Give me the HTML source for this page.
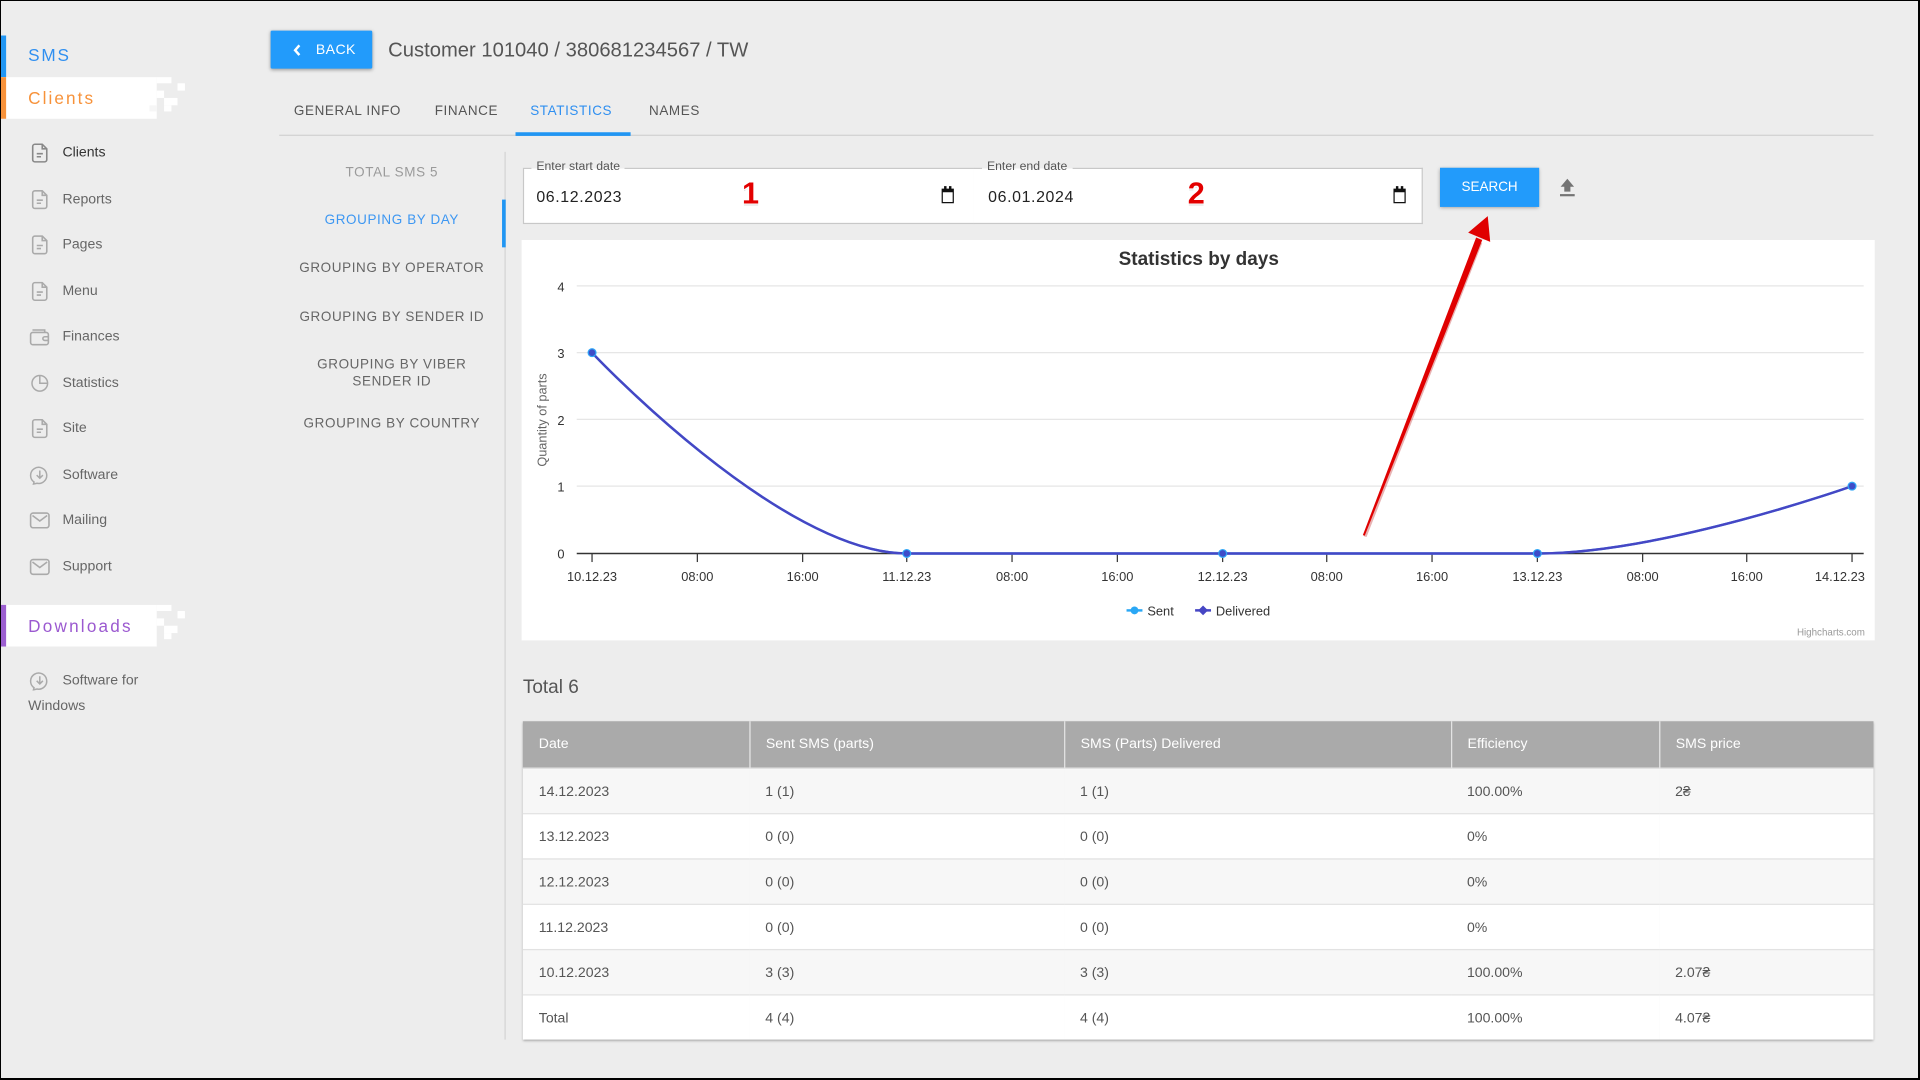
<!DOCTYPE html>
<html>
<head>
<meta charset="utf-8">
<style>
html,body{margin:0;padding:0;}
body{width:1920px;height:1080px;overflow:hidden;background:#ededed;position:relative;font-family:"Liberation Sans",Arial,sans-serif;}
#s{position:absolute;left:0;top:0;width:1568px;height:882px;transform:scale(1.22449);transform-origin:0 0;}
.a{position:absolute;white-space:nowrap;}
.side{font-size:11.5px;color:#666;left:51px;height:16px;line-height:16px;}
.ico{position:absolute;left:25px;width:15px;height:16px;}
.tab{font-size:11px;letter-spacing:0.5px;color:#555;top:83px;height:16px;line-height:16px;}
.sub{font-size:11px;letter-spacing:0.5px;color:#666;left:228px;width:184px;text-align:center;line-height:14px;}
.lbl{font-size:10px;color:#555;top:131px;height:12px;line-height:12px;padding:0 4px;background:linear-gradient(#ededed 55%,#fff 55%);}
.val{font-size:13px;letter-spacing:0.5px;color:#222;top:153px;height:16px;line-height:16px;}
.cal{position:absolute;width:8px;height:8px;border:1.6px solid #111;border-top-width:3px;top:154px;}
.cal:before,.cal:after{content:"";position:absolute;top:-5px;width:1.6px;height:3px;background:#111;}
.cal:before{left:1px}.cal:after{right:1px}
.num{font-size:25px;font-weight:bold;color:#e30000;text-shadow:1px 0 #fff,-1px 0 #fff,0 1px #fff,0 -1px #fff,1px 1px #fff,-1px 1px #fff,0 2px #ddd;height:30px;line-height:30px;}
table{position:absolute;left:427px;top:589px;width:1103px;border-collapse:collapse;table-layout:fixed;font-size:11.5px;color:#555;box-shadow:0 1px 2px rgba(0,0,0,.35);}
th{height:38px;background:#aaa;color:#fff;font-weight:normal;text-align:left;padding:1px 0 0 13px;border-left:1px solid #e4e4e4;box-sizing:border-box;}
th:first-child{border-left:none;}
td{height:33px;padding:3px 0 0 13px;border-top:1px solid #e2e2e2;}
tr.g td{background:#f7f7f7;}
tr.w td{background:#fff;}
</style>
</head>
<body>
<div id="s">

<!-- Sidebar headers -->
<div class="a" style="left:0;top:29px;width:5px;height:34px;background:#2196f3;"></div>
<div class="a" style="left:23px;top:36px;font-size:14px;letter-spacing:1.5px;color:#2f8ff0;line-height:18px;">SMS</div>

<div class="a" style="left:0;top:63px;width:128px;height:34px;background:#fff;"></div>
<div class="a" style="left:0;top:63px;width:5px;height:34px;background:#f7923a;"></div>
<div class="a" style="left:128px;top:63px;width:12px;height:5px;background:#fff;"></div>
<div class="a" style="left:145px;top:68px;width:6px;height:6px;background:#fff;"></div>
<div class="a" style="left:128px;top:74px;width:6px;height:6px;background:#fff;"></div>
<div class="a" style="left:134px;top:80px;width:11px;height:6px;background:#fff;"></div>
<div class="a" style="left:122px;top:86px;width:6px;height:5px;background:#f6f6f6;"></div>
<div class="a" style="left:134px;top:86px;width:6px;height:5px;background:#fff;"></div>
<div class="a" style="left:23px;top:71px;font-size:14px;letter-spacing:1.7px;color:#f7923a;line-height:18px;">Clients</div>

<!-- Sidebar items -->
<svg class="ico" style="top:117px" viewBox="0 0 15 16"><g fill="none" stroke="#888" stroke-width="1.3"><path d="M3.5 0.8H9.5L13.2 4.5V13.4a1.8 1.8 0 0 1-1.8 1.8H3.5a1.8 1.8 0 0 1-1.8-1.8V2.6a1.8 1.8 0 0 1 1.8-1.8Z"/><path d="M9.5 0.8V4.5H13.2M5 8.5H10M5 11H8.5"/></g></svg>
<div class="a side" style="top:117px;color:#333;">Clients</div>

<svg class="ico" style="top:155px" viewBox="0 0 15 16"><g fill="none" stroke="#aaa" stroke-width="1.3"><path d="M3.5 0.8H9.5L13.2 4.5V13.4a1.8 1.8 0 0 1-1.8 1.8H3.5a1.8 1.8 0 0 1-1.8-1.8V2.6a1.8 1.8 0 0 1 1.8-1.8Z"/><path d="M9.5 0.8V4.5H13.2M5 8.5H10M5 11H8.5"/></g></svg>
<div class="a side" style="top:155px;">Reports</div>

<svg class="ico" style="top:192px" viewBox="0 0 15 16"><g fill="none" stroke="#aaa" stroke-width="1.3"><path d="M3.5 0.8H9.5L13.2 4.5V13.4a1.8 1.8 0 0 1-1.8 1.8H3.5a1.8 1.8 0 0 1-1.8-1.8V2.6a1.8 1.8 0 0 1 1.8-1.8Z"/><path d="M9.5 0.8V4.5H13.2M5 8.5H10M5 11H8.5"/></g></svg>
<div class="a side" style="top:192px;">Pages</div>

<svg class="ico" style="top:230px" viewBox="0 0 15 16"><g fill="none" stroke="#aaa" stroke-width="1.3"><path d="M3.5 0.8H9.5L13.2 4.5V13.4a1.8 1.8 0 0 1-1.8 1.8H3.5a1.8 1.8 0 0 1-1.8-1.8V2.6a1.8 1.8 0 0 1 1.8-1.8Z"/><path d="M9.5 0.8V4.5H13.2M5 8.5H10M5 11H8.5"/></g></svg>
<div class="a side" style="top:230px;">Menu</div>

<svg class="ico" style="top:267px;width:17px;left:24px" viewBox="0 0 17 16"><g fill="none" stroke="#aaa" stroke-width="1.3"><path d="M2.5 2.5H12.5V4.5"/><rect x="1" y="4.5" width="14.5" height="10" rx="1.8"/><path d="M15.5 8H12.5a1.5 1.5 0 0 0 0 3H15.5"/></g></svg>
<div class="a side" style="top:267px;">Finances</div>

<svg class="ico" style="top:305px" viewBox="0 0 16 16"><g fill="none" stroke="#aaa" stroke-width="1.3"><circle cx="8" cy="8" r="6.8"/><path d="M8 1.2V8H14.8"/></g></svg>
<div class="a side" style="top:305px;">Statistics</div>

<svg class="ico" style="top:342px" viewBox="0 0 15 16"><g fill="none" stroke="#aaa" stroke-width="1.3"><path d="M3.5 0.8H9.5L13.2 4.5V13.4a1.8 1.8 0 0 1-1.8 1.8H3.5a1.8 1.8 0 0 1-1.8-1.8V2.6a1.8 1.8 0 0 1 1.8-1.8Z"/><path d="M9.5 0.8V4.5H13.2M5 8.5H10M5 11H8.5"/></g></svg>
<div class="a side" style="top:342px;">Site</div>

<svg class="ico" style="top:380px;width:17px;left:24px" viewBox="0 0 17 17"><g fill="none" stroke="#aaa" stroke-width="1.3"><path d="M3.5 14.5A7 7 0 1 1 6 15.6L3 16.3Z"/><path d="M8.5 4.5V11M5.8 8.5L8.5 11.2L11.2 8.5"/></g></svg>
<div class="a side" style="top:380px;">Software</div>

<svg class="ico" style="top:417px;width:17px;left:24px" viewBox="0 0 17 16"><g fill="none" stroke="#aaa" stroke-width="1.3"><rect x="1" y="2" width="15" height="12" rx="2"/><path d="M2.5 4L8.5 8.5L14.5 4"/></g></svg>
<div class="a side" style="top:417px;">Mailing</div>

<svg class="ico" style="top:455px;width:17px;left:24px" viewBox="0 0 17 16"><g fill="none" stroke="#aaa" stroke-width="1.3"><rect x="1" y="2" width="15" height="12" rx="2"/><path d="M2.5 4L8.5 8.5L14.5 4"/></g></svg>
<div class="a side" style="top:455px;">Support</div>

<!-- Downloads -->
<div class="a" style="left:0;top:494px;width:128px;height:34px;background:#fff;"></div>
<div class="a" style="left:0;top:494px;width:5px;height:34px;background:#9c5fd0;"></div>
<div class="a" style="left:128px;top:494px;width:12px;height:5px;background:#fff;"></div>
<div class="a" style="left:145px;top:499px;width:6px;height:6px;background:#fff;"></div>
<div class="a" style="left:128px;top:505px;width:6px;height:6px;background:#fff;"></div>
<div class="a" style="left:134px;top:511px;width:11px;height:6px;background:#fff;"></div>
<div class="a" style="left:134px;top:517px;width:6px;height:5px;background:#fff;"></div>
<div class="a" style="left:23px;top:502px;font-size:14px;letter-spacing:1.8px;color:#9b59d0;line-height:18px;">Downloads</div>

<svg class="ico" style="top:548px;width:17px;left:24px" viewBox="0 0 17 17"><g fill="none" stroke="#aaa" stroke-width="1.3"><path d="M3.5 14.5A7 7 0 1 1 6 15.6L3 16.3Z"/><path d="M8.5 4.5V11M5.8 8.5L8.5 11.2L11.2 8.5"/></g></svg>
<div class="a side" style="top:548px;">Software for</div>
<div class="a side" style="top:569px;left:23px;">Windows</div>

<!-- Header -->
<div class="a" style="left:221px;top:25px;width:83px;height:31px;background:#229bfb;box-shadow:0 1px 3px rgba(0,0,0,.35);border-radius:1px;"></div>
<svg class="a" style="left:238px;top:35px;width:10px;height:12px" viewBox="0 0 10 12"><path d="M6.5 2L3 6L6.5 10" fill="none" stroke="#fff" stroke-width="2"/></svg>
<div class="a" style="left:258px;top:33px;font-size:11.5px;letter-spacing:0.3px;color:#fff;line-height:16px;">BACK</div>
<div class="a" style="left:317px;top:30px;font-size:16.5px;color:#555;line-height:22px;">Customer 101040 / 380681234567 / TW</div>

<!-- Tabs -->
<div class="a tab" style="left:240px;">GENERAL INFO</div>
<div class="a tab" style="left:355px;">FINANCE</div>
<div class="a tab" style="left:433px;color:#2f8ff0;">STATISTICS</div>
<div class="a tab" style="left:530px;">NAMES</div>
<div class="a" style="left:228px;top:110px;width:1302px;height:1px;background:#d2d2d2;"></div>
<div class="a" style="left:421px;top:108px;width:94px;height:2.5px;background:#2196f3;"></div>

<!-- Sub menu -->
<div class="a" style="left:412px;top:124px;width:1px;height:725px;background:#d4d4d4;"></div>
<div class="a" style="left:410px;top:163px;width:2.5px;height:39px;background:#2196f3;"></div>
<div class="a sub" style="top:134px;color:#9a9a9a;">TOTAL SMS 5</div>
<div class="a sub" style="top:173px;color:#3d97f2;">GROUPING BY DAY</div>
<div class="a sub" style="top:212px;">GROUPING BY OPERATOR</div>
<div class="a sub" style="top:252px;">GROUPING BY SENDER ID</div>
<div class="a sub" style="top:291px;white-space:normal;">GROUPING BY VIBER<br>SENDER ID</div>
<div class="a sub" style="top:339px;">GROUPING BY COUNTRY</div>

<!-- Date inputs -->
<div class="a" style="left:427px;top:137px;width:367px;height:44px;background:#fff;border:1px solid #c8c8c8;"></div>
<div class="a" style="left:795px;top:137px;width:366px;height:44px;background:#fff;border:1px solid #c8c8c8;border-left:none;"></div>
<div class="a lbl" style="left:434px;">Enter start date</div>
<div class="a lbl" style="left:802px;">Enter end date</div>
<div class="a val" style="left:438px;">06.12.2023</div>
<div class="a val" style="left:807px;">06.01.2024</div>
<div class="cal" style="left:769px;"></div>
<div class="cal" style="left:1138px;"></div>
<div class="a num" style="left:606px;top:143px;">1</div>
<div class="a num" style="left:970px;top:143px;">2</div>

<!-- Search -->
<div class="a" style="left:1176px;top:137px;width:81px;height:32px;background:#229bfb;box-shadow:0 1px 3px rgba(0,0,0,.35);"></div>
<div class="a" style="left:1176px;top:145px;width:81px;text-align:center;font-size:11px;color:#fff;line-height:16px;">SEARCH</div>
<svg class="a" style="left:1272px;top:145px;width:16px;height:17px" viewBox="0 0 16 17"><path d="M8 1L2.5 7.5H5.5V11.5H10.5V7.5H13.5Z" fill="#747474"/><rect x="2" y="13.5" width="12" height="1.8" fill="#747474"/></svg>

<!-- Chart panel -->
<div class="a" style="left:426px;top:196px;width:1105px;height:327px;background:#fff;"></div>

<svg class="a" style="left:0;top:0;width:1568px;height:882px" viewBox="0 0 1568 882" font-family="Liberation Sans, Arial, sans-serif">
  <text x="979" y="216.5" text-anchor="middle" font-size="15.5" font-weight="bold" fill="#333">Statistics by days</text>
  <g stroke="#e6e6e6" stroke-width="1">
    <line x1="471" y1="233.5" x2="1522" y2="233.5"/>
    <line x1="471" y1="288" x2="1522" y2="288"/>
    <line x1="471" y1="342.5" x2="1522" y2="342.5"/>
    <line x1="471" y1="397" x2="1522" y2="397"/>
  </g>
  <g font-size="10.5" fill="#333" text-anchor="end">
    <text x="461" y="238">4</text>
    <text x="461" y="292.5">3</text>
    <text x="461" y="347">2</text>
    <text x="461" y="401.5">1</text>
    <text x="461" y="456">0</text>
  </g>
  <text transform="translate(446.5,343) rotate(-90)" text-anchor="middle" font-size="10.4" fill="#666">Quantity of parts</text>
  <line x1="471" y1="452" x2="1522" y2="452" stroke="#333" stroke-width="1.2"/>
  <g stroke="#333" stroke-width="1">
    <line x1="483.5" y1="452" x2="483.5" y2="459"/>
    <line x1="569.5" y1="452" x2="569.5" y2="459"/>
    <line x1="655.5" y1="452" x2="655.5" y2="459"/>
    <line x1="740.5" y1="452" x2="740.5" y2="459"/>
    <line x1="826.5" y1="452" x2="826.5" y2="459"/>
    <line x1="912.5" y1="452" x2="912.5" y2="459"/>
    <line x1="998.5" y1="452" x2="998.5" y2="459"/>
    <line x1="1083.5" y1="452" x2="1083.5" y2="459"/>
    <line x1="1169.5" y1="452" x2="1169.5" y2="459"/>
    <line x1="1255.5" y1="452" x2="1255.5" y2="459"/>
    <line x1="1341.5" y1="452" x2="1341.5" y2="459"/>
    <line x1="1426.5" y1="452" x2="1426.5" y2="459"/>
    <line x1="1512.5" y1="452" x2="1512.5" y2="459"/>
  </g>
  <g font-size="10.5" fill="#333" text-anchor="middle">
    <text x="483.5" y="474.5">10.12.23</text>
    <text x="569.5" y="474.5">08:00</text>
    <text x="655.5" y="474.5">16:00</text>
    <text x="740.5" y="474.5">11.12.23</text>
    <text x="826.5" y="474.5">08:00</text>
    <text x="912.5" y="474.5">16:00</text>
    <text x="998.5" y="474.5">12.12.23</text>
    <text x="1083.5" y="474.5">08:00</text>
    <text x="1169.5" y="474.5">16:00</text>
    <text x="1255.5" y="474.5">13.12.23</text>
    <text x="1341.5" y="474.5">08:00</text>
    <text x="1426.5" y="474.5">16:00</text>
    <text x="1523" y="474.5" text-anchor="end">14.12.23</text>
  </g>
  <path d="M483.5 288 C483.5 288 637.5 452 740.5 452 L1255.5 452 C1358 452 1512.5 397 1512.5 397" fill="none" stroke="#2aa7f5" stroke-width="2"/>
  <path d="M483.5 288 C483.5 288 637.5 452 740.5 452 L1255.5 452 C1358 452 1512.5 397 1512.5 397" fill="none" stroke="#4646c4" stroke-width="2"/>
  <g fill="#3f4cc8" stroke="#2fa6f7" stroke-width="1">
    <circle cx="483.5" cy="288" r="3.2"/>
    <circle cx="740.5" cy="452" r="3.2"/>
    <circle cx="998.5" cy="452" r="3.2"/>
    <circle cx="1255.5" cy="452" r="3.2"/>
    <circle cx="1512.5" cy="397" r="3.2"/>
  </g>
  <!-- legend -->
  <line x1="920" y1="498.5" x2="933" y2="498.5" stroke="#2aa7f5" stroke-width="2"/>
  <circle cx="926.5" cy="498.5" r="3.2" fill="#2aa7f5"/>
  <text x="937" y="502.5" font-size="10.5" fill="#333">Sent</text>
  <line x1="976" y1="498.5" x2="989" y2="498.5" stroke="#4646c4" stroke-width="2"/>
  <path d="M982.5 494.5L986.5 498.5L982.5 502.5L978.5 498.5Z" fill="#4646c4"/>
  <text x="993" y="502.5" font-size="10.5" fill="#333">Delivered</text>
  <text x="1523" y="519" text-anchor="end" font-size="8" fill="#999">Highcharts.com</text>

  <!-- red arrow -->
  <path d="M1113 437 L1205 196 L1209.5 197.5 L1115 437.5 Z" fill="#b40000" opacity="0.3" transform="translate(1,1)"/>
  <path d="M1113 437 L1205.5 194 L1210.5 196 L1114.5 437.5 Z" fill="#e00000"/>
  <path d="M1215 176.5 L1199 190 L1217 197.5 Z" fill="#e00000"/>
</svg>

<!-- Total + table -->
<div class="a" style="left:427px;top:552px;font-size:15.5px;color:#555;line-height:20px;">Total 6</div>
<table>
<colgroup><col style="width:185px"><col style="width:257px"><col style="width:316px"><col style="width:170px"><col style="width:175px"></colgroup>
<thead><tr><th>Date</th><th>Sent SMS (parts)</th><th>SMS (Parts) Delivered</th><th>Efficiency</th><th>SMS price</th></tr></thead>
<tbody>
<tr class="g"><td>14.12.2023</td><td>1 (1)</td><td>1 (1)</td><td>100.00%</td><td>2₴</td></tr>
<tr class="w"><td>13.12.2023</td><td>0 (0)</td><td>0 (0)</td><td>0%</td><td></td></tr>
<tr class="g"><td>12.12.2023</td><td>0 (0)</td><td>0 (0)</td><td>0%</td><td></td></tr>
<tr class="w"><td>11.12.2023</td><td>0 (0)</td><td>0 (0)</td><td>0%</td><td></td></tr>
<tr class="g"><td>10.12.2023</td><td>3 (3)</td><td>3 (3)</td><td>100.00%</td><td>2.07₴</td></tr>
<tr class="w"><td>Total</td><td>4 (4)</td><td>4 (4)</td><td>100.00%</td><td>4.07₴</td></tr>
</tbody>
</table>

</div>
<div style="position:absolute;left:0;top:0;width:1920px;height:1080px;box-sizing:border-box;border:2px solid #000;border-top-width:1.5px;border-left-width:1.5px;pointer-events:none;"></div>
</body>
</html>
